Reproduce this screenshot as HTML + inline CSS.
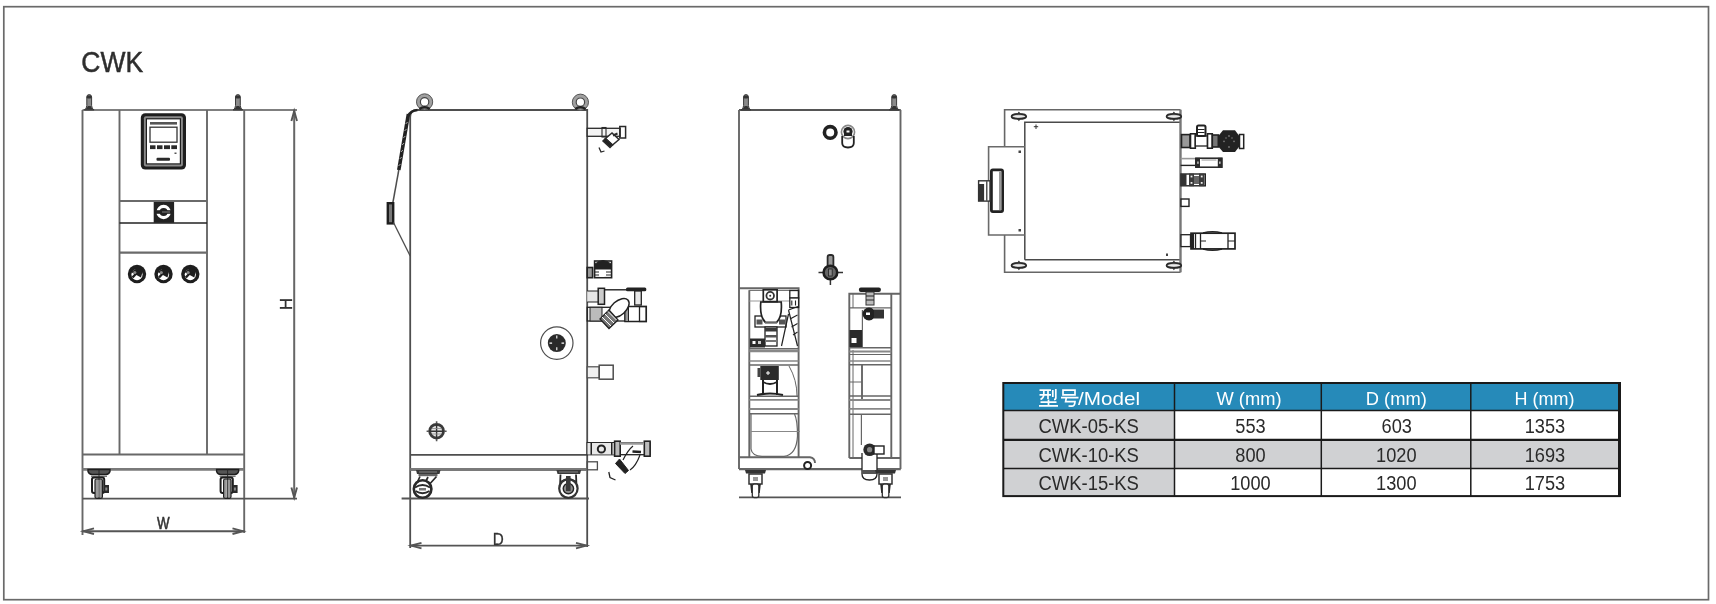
<!DOCTYPE html>
<html><head><meta charset="utf-8">
<style>
html,body{margin:0;padding:0;background:#fff;}
body{width:1716px;height:604px;overflow:hidden;position:relative;font-family:"Liberation Sans",sans-serif;}
svg{position:absolute;left:0;top:0;-webkit-font-smoothing:antialiased;will-change:transform;}
</style></head>
<body>
<svg width="1716" height="604" viewBox="0 0 1716 604" font-family="Liberation Sans, sans-serif">
<!-- page border -->
<rect x="3.8" y="6.7" width="1704.7" height="593" fill="none" stroke="#6a6a6a" stroke-width="1.7"/>
<text x="81.3" y="72" font-size="29" fill="#2e2e2e" stroke="#2e2e2e" stroke-width="0.5" textLength="61.8" lengthAdjust="spacingAndGlyphs">CWK</text>

<!-- ============ FRONT VIEW ============ -->
<g id="front" fill="none" stroke="#686868" stroke-width="1.9">
  <line x1="82.5" y1="110" x2="297" y2="110" stroke="#555" stroke-width="1.7"/>
  <line x1="82.5" y1="110" x2="82.5" y2="535"/>
  <line x1="244.2" y1="110" x2="244.2" y2="533"/>
  <line x1="119.5" y1="110" x2="119.5" y2="454.5"/>
  <line x1="207" y1="110" x2="207" y2="454.5"/>
  <line x1="82.5" y1="454.5" x2="244.2" y2="454.5"/>
  <line x1="82.5" y1="469.3" x2="244.2" y2="469.3" stroke="#7a7a7a" stroke-width="2.8"/>
  <line x1="82.5" y1="498.6" x2="297" y2="498.6" stroke="#555" stroke-width="1.9"/>
  <!-- H dim -->
  <line x1="294.2" y1="110" x2="294.2" y2="498.6" stroke="#666" stroke-width="2"/>
  <path d="M291.4 121 L294.2 111 L297 121 M291.4 487.5 L294.2 497.5 L297 487.5" stroke="#555" stroke-width="1.9"/>
  <!-- W dim -->
  <line x1="82.5" y1="531.2" x2="244.2" y2="531.2" stroke="#555" stroke-width="1.9"/>
  <path d="M94 528.4 L83.5 531.2 L94 534 M232.5 528.4 L243 531.2 L232.5 534" stroke="#555" stroke-width="1.9"/>
  <!-- panel lines -->
  <line x1="119.5" y1="201" x2="207" y2="201" stroke="#6a6a6a" stroke-width="2.2"/>
  <line x1="119.5" y1="223" x2="207" y2="223" stroke="#222" stroke-width="1.7"/>
  <line x1="119.5" y1="252.6" x2="207" y2="252.6" stroke="#6a6a6a" stroke-width="2.2"/>
</g>
<!-- bolts -->
<g id="bolt1">
  <path d="M84.3 110 Q86.8 108.5 86.8 105.5 L86.8 97 Q86.8 94.6 89.2 94.6 Q91.6 94.6 91.6 97 L91.6 105.5 Q91.6 108.5 94.1 110 Z" fill="#8a8a8a" stroke="#3a3a3a" stroke-width="1"/>
  <path d="M84.5 109.8 Q87.5 108 87.8 106 L90.6 106 Q91 108 94 109.8 Z" fill="#333"/>
  <rect x="86.6" y="95.5" width="5" height="3" rx="1.5" fill="#333"/>
</g>
<use href="#bolt1" transform="translate(148.7,0)"/>
<g fill="#333" font-size="15">
  <text x="157" y="529" font-size="16.5" stroke="#333" stroke-width="0.6" textLength="12.6" lengthAdjust="spacingAndGlyphs">W</text>
  <text transform="translate(292.4,310) rotate(-90)" font-size="16.5" stroke="#333" stroke-width="0.3" textLength="12" lengthAdjust="spacingAndGlyphs">H</text>
</g>
<!-- controller -->
<g>
  <rect x="140.8" y="113.2" width="45.2" height="56.3" rx="4.5" fill="#1e1e1e"/>
  <rect x="143.9" y="116.3" width="39" height="50.1" rx="2" fill="#8a8a8a"/>
  <rect x="145.8" y="118.2" width="35.2" height="46.3" fill="#1e1e1e"/>
  <rect x="147" y="119.4" width="32.8" height="43.9" fill="#fff"/>
  <rect x="150" y="122" width="27" height="2.6" fill="#555"/>
  <rect x="150" y="127.2" width="27" height="15" fill="#fff" stroke="#333" stroke-width="1.3"/>
  <rect x="150" y="145.3" width="5.5" height="3.8" fill="#2a2a2a"/>
  <rect x="157" y="145.3" width="5.5" height="3.8" fill="#2a2a2a"/>
  <rect x="164" y="145.3" width="6" height="3.8" fill="#2a2a2a"/>
  <rect x="171.3" y="145.3" width="5.7" height="3.8" fill="#2a2a2a"/>
  <rect x="174.5" y="152.5" width="2" height="1.5" fill="#555"/>
  <rect x="156.5" y="157.8" width="13.5" height="3" rx="1" fill="#2a2a2a"/>
</g>
<!-- switch -->
<g>
  <rect x="153.7" y="202" width="20.4" height="20.8" fill="#222"/>
  <circle cx="163.6" cy="212" r="7.2" fill="#fff"/>
  <circle cx="163.6" cy="212" r="4" fill="#222"/>
  <rect x="155" y="210.2" width="18" height="3.6" fill="#222"/>
  <rect x="162" y="211.3" width="8" height="1.4" fill="#666"/>
</g>
<!-- gauges -->
<g id="gauge1">
  <circle cx="137" cy="274" r="9.2" fill="#1e1e1e"/>
  <circle cx="137" cy="274.6" r="5.6" fill="#fff"/>
  <path d="M131 272 L138.5 267 L143 270 L141 277.5 Z" fill="#1e1e1e"/>
  <path d="M132.5 277.5 L140 269.5" stroke="#1e1e1e" stroke-width="2.4"/>
  <circle cx="134.8" cy="272.5" r="1.6" fill="#888"/>
</g>
<use href="#gauge1" transform="translate(26.5,0)"/>
<use href="#gauge1" transform="translate(53.3,0)"/>
<!-- front casters -->
<g id="fcaster" transform="translate(99,0)">
  <path d="M-11 469.5 L11 469.5 L11 471.5 Q10 474.3 7 474.5 L-7 474.5 Q-10 474.3 -11 471.5 Z" fill="#555" stroke="#1e1e1e" stroke-width="1.4"/>
  <path d="M-8 476.3 H8" stroke="#777" stroke-width="1.4"/>
  <rect x="-7" y="477.5" width="12.2" height="15.5" rx="2" fill="#fff" stroke="#1e1e1e" stroke-width="2"/>
  <rect x="-4" y="479" width="7.4" height="19.3" rx="1.5" fill="#9a9a9a" stroke="#222" stroke-width="1.2"/>
  <rect x="-0.8" y="480" width="1.3" height="17" fill="#eee"/>
  <path d="M0 469 V498.5" stroke="#222" stroke-width="0.9"/>
  <rect x="5" y="485" width="5" height="8" fill="#2a2a2a"/>
  <rect x="6.3" y="487.5" width="2" height="3" fill="#888"/>
</g>
<use href="#fcaster" transform="translate(128.6,0)"/>

<!-- ============ SIDE VIEW ============ -->
<g id="side" fill="none" stroke="#4e4e4e" stroke-width="1.8">
  <path d="M410.2 548 L410.2 117 Q410.2 110 417 110 L587.2 110 L587.2 547"/>
  <circle cx="424.6" cy="101.9" r="6.3" stroke="#a0a0a0" stroke-width="3.8"/>
  <circle cx="424.6" cy="101.9" r="8.1" stroke="#555" stroke-width="1"/>
  <circle cx="424.6" cy="101.9" r="4.2" stroke="#444" stroke-width="1.2"/>
  <circle cx="580.4" cy="102.2" r="6.3" stroke="#a0a0a0" stroke-width="3.8"/>
  <circle cx="580.4" cy="102.2" r="8.1" stroke="#555" stroke-width="1"/>
  <circle cx="580.4" cy="102.2" r="4.2" stroke="#444" stroke-width="1.2"/>
  <path d="M419.5 109 Q424.6 105.5 429.7 109" stroke="#222" stroke-width="2.6"/>
  <path d="M575.3 109 Q580.4 105.5 585.5 109" stroke="#222" stroke-width="2.6"/>
  <path d="M417.5 110 Q410.5 110.5 408.2 116" stroke="#222" stroke-width="2.4"/>
  <path d="M408.4 114 L398.8 170" stroke="#222" stroke-width="3.6"/>
  <path d="M407.6 122 L405.6 124 M406.5 129 L404.5 131 M405.3 136 L403.3 138 M404.1 143 L402.1 145 M402.9 150 L400.9 152 M401.7 157 L399.7 159 M400.5 164 L398.5 166" stroke="#bbb" stroke-width="0.9"/>
  <path d="M398.8 170 L392.9 202.5" stroke-width="1.5"/>
  <rect x="387.8" y="203.2" width="5.4" height="20.2" stroke="#1e1e1e" stroke-width="2.4" fill="#777"/>
  <path d="M393.5 222.5 L410.2 256" stroke-width="1.3"/>
  <line x1="410.2" y1="454.8" x2="587.2" y2="454.8"/>
  <line x1="410.2" y1="469.5" x2="587.2" y2="469.5" stroke="#7a7a7a" stroke-width="2.8"/>
  <line x1="401.6" y1="498.5" x2="589" y2="498.5" stroke="#555" stroke-width="1.9"/>
  <line x1="410.2" y1="545.6" x2="587.2" y2="545.6" stroke="#555" stroke-width="1.9"/>
  <path d="M421.5 542.8 L411 545.6 L421.5 548.4 M576 542.8 L586.5 545.6 L576 548.4" stroke="#555" stroke-width="1.9"/>
  <circle cx="556.8" cy="343.1" r="16.2" stroke-width="1.2"/>
  <!-- valve circle lower-left -->
  <circle cx="436.6" cy="431.2" r="6.9" stroke="#3a3a3a" stroke-width="2.8" fill="#e4e4e4"/>
  <path d="M429 431.2 L444.2 431.2 M436.6 423.5 L436.6 439" stroke="#333" stroke-width="1.4"/>
  <path d="M432 428.5 H441.5 M432 434 H441.5" stroke="#888" stroke-width="0.8"/>
  <path d="M426.6 431.2 H429 M444.2 431.2 H446.6 M436.6 421.2 V423.5 M436.6 439 V441.2" stroke="#555" stroke-width="1.6"/>
  <!-- small pipe mid -->
  <rect x="587.2" y="366.8" width="12" height="11" stroke-width="1.2" fill="#f0f0f0"/>
  <rect x="599.2" y="365.2" width="14" height="14" stroke-width="1.5"/>
  <!-- small tab bottom -->
  <rect x="587.2" y="461.8" width="10.2" height="8" stroke-width="1.3"/>
</g>
<circle cx="556.8" cy="343.1" r="9" fill="#2a2a2a"/>
<g stroke="#fff" stroke-width="1.1"><path d="M556.8 335.5 v3 M556.8 347.2 v3 M549.5 343.1 h2.6 M561.5 343.1 h2.6"/></g>
<text x="492.8" y="544.5" font-size="16.5" fill="#333" stroke="#333" stroke-width="0.3" textLength="11" lengthAdjust="spacingAndGlyphs">D</text>
<!-- side casters -->
<g>
  <path d="M416 470 L440.5 470 L439.5 474 L417 474 Z" fill="#3a3a3a"/>
  <path d="M419 472 H437" stroke="#999" stroke-width="0.8"/>
  <rect x="418.5" y="474" width="19" height="2.2" fill="#666"/>
  <path d="M420 476.5 L415.5 486 M436.5 476.5 L427 487 M428 477 L423 487" fill="none" stroke="#2a2a2a" stroke-width="1.7"/>
  <circle cx="422.6" cy="489" r="8.8" fill="#fff" stroke="#2a2a2a" stroke-width="2.6"/>
  <path d="M415 487.5 Q422.6 482.5 430 487.5 M415.5 491 Q422.6 495.5 429.5 491" fill="none" stroke="#2a2a2a" stroke-width="2"/>
  <rect x="419" y="488" width="7" height="2.5" fill="#777"/>
</g>
<g>
  <path d="M556.4 470 L581.2 470 L580 474 L557.5 474 Z" fill="#3a3a3a"/>
  <path d="M559 472 H578" stroke="#999" stroke-width="0.8"/>
  <path d="M560.5 474.5 L560 486 Q560 480 568.4 479 Q577 480 576.5 486 L576 474.5" fill="none" stroke="#2a2a2a" stroke-width="1.8"/>
  <circle cx="568.4" cy="488.6" r="9.2" fill="#fff" stroke="#333" stroke-width="2.2"/>
  <circle cx="568.4" cy="488.6" r="5.2" fill="#8a8a8a" stroke="#222" stroke-width="1.4"/>
  <rect x="566" y="476" width="4.6" height="15" fill="#3a3a3a"/>
</g>
<!-- side fittings: top -->
<g stroke="#2a2a2a" fill="none">
  <rect x="587.2" y="128.3" width="33" height="8" stroke-width="1.3" fill="#f4f4f4"/>
  <rect x="602" y="127.5" width="4" height="9.5" stroke-width="1.1"/>
  <rect x="619.8" y="126.5" width="5.8" height="11.5" stroke-width="1.5"/>
  <path d="M605.5 138.5 L612 133 L619 139.5 L612.5 145 Z" fill="#fff" stroke-width="1.5"/>
  <path d="M605.5 138.5 L612.5 145 L610 147.5 L603 141 Z" fill="#222" stroke-width="1.5"/>
  <path d="M613 135.5 L617.5 133.5" stroke-width="2"/>
  <path d="M599 147.5 L601 152 L604.5 151" stroke-width="1.3"/>
</g>
<!-- small valve -->
<g stroke="#222" fill="none">
  <rect x="587.2" y="267.5" width="5.4" height="10.2" stroke-width="1.6" fill="#999"/>
  <rect x="594.6" y="261" width="17" height="16.7" stroke-width="1.6"/>
  <path d="M595 264 Q603 257 611 264 L611 269 L595 269 Z" fill="#222"/>
  <rect x="599.5" y="270" width="5" height="7" fill="#fff" stroke="none"/>
  <path d="M595 272 h4 M606 272 h5 M595 275 h4 M606 275 h5" stroke-width="1"/>
</g>
<!-- big assembly -->
<g stroke="#222" fill="none">
  <rect x="587.2" y="291" width="11" height="11" stroke="none" fill="#e6e6e6"/>
  <path d="M587.2 291 h11 M587.2 302 h11" stroke-width="1.2"/>
  <rect x="598.2" y="288.3" width="6.3" height="16" stroke-width="1.5" fill="#ccc"/>
  <line x1="604.5" y1="289.8" x2="630" y2="289.8" stroke-width="1.4"/>
  <rect x="626" y="287.6" width="20.3" height="3.6" rx="1.5" fill="#222" stroke="none"/>
  <rect x="634.7" y="291" width="6.6" height="14" stroke-width="1.3" fill="#e8e8e8"/>
  <rect x="587.2" y="307.3" width="59" height="13.7" stroke-width="1.3"/>
  <rect x="590" y="307.3" width="12" height="13.7" stroke-width="1" fill="#bbb"/>
  <rect x="625" y="306.5" width="21.3" height="15" stroke-width="1.5" fill="#fff"/>
  <rect x="639.5" y="306.5" width="6.8" height="15" stroke-width="1.3"/>
  <rect x="625" y="306.5" width="3.5" height="15" fill="#999" stroke-width="1"/>
  <ellipse cx="619" cy="308" rx="12" ry="7" transform="rotate(-42 619 308)" fill="#fff" stroke-width="1.5"/>
  <path d="M600 319 L609 310 L618 320 L609 328.5 Z" fill="#777" stroke-width="1.3"/>
  <path d="M602 317 L611 326 M605 314 L614 323 M608 311.5 L616.5 320" stroke="#fff" stroke-width="1"/>
</g>
<!-- bottom fitting -->
<g stroke="#222" fill="none">
  <rect x="587.2" y="442.7" width="62.8" height="12" stroke-width="1.3" fill="#fff"/>
  <rect x="587.5" y="443" width="27" height="11.5" fill="#e8e8e8" stroke="none"/>
  <rect x="590.5" y="442.7" width="1.5" height="12" fill="#222" stroke="none"/>
  <rect x="611" y="442.7" width="1.5" height="12" fill="#222" stroke="none"/>
  <circle cx="601.4" cy="449" r="3.6" stroke-width="2"/>
  <rect x="614.6" y="441.2" width="5.6" height="15" stroke-width="1.6" fill="#bbb"/>
  <rect x="644.3" y="441.2" width="5.8" height="15" stroke-width="1.6" fill="#bbb"/>
  <path d="M620 443.5 h24" stroke="#999" stroke-width="2.5"/>
  <path d="M623 460 Q628 450 633 446" stroke-width="1.2"/>
  <path d="M640 455 Q636 466 630 470" stroke-width="1.2"/>
  <path d="M619.5 459 L628.5 470.5 L625 473.5 L615.5 463.5 Z" fill="#222" stroke-width="1"/>
  <path d="M632.5 451.5 L641 452" stroke-width="2.4"/>
  <path d="M608.8 472 L610 477.5 L615.5 480" stroke-width="1.3"/>
</g>

<!-- ============ BACK VIEW ============ -->
<g id="back" fill="none" stroke="#666" stroke-width="1.9">
  <line x1="739" y1="110" x2="900.8" y2="110" stroke="#555" stroke-width="1.8"/>
  <line x1="739" y1="110" x2="739" y2="469"/>
  <line x1="900.5" y1="110" x2="900.5" y2="469"/>
  <line x1="739" y1="469.2" x2="900.8" y2="469.2" stroke="#666" stroke-width="2.2"/>
  <line x1="739" y1="497.4" x2="901" y2="497.4" stroke="#555" stroke-width="1.9"/>
  <!-- left panel -->
  <path d="M739 288.2 L798.6 288.2 L798.6 457.2"/>
  <line x1="749.3" y1="290.2" x2="749.3" y2="457.2"/>
  <line x1="749.3" y1="290.4" x2="798.6" y2="290.4" stroke-width="1"/>
  <line x1="749.3" y1="350.8" x2="798.6" y2="350.8" stroke="#888" stroke-width="3"/>
  <line x1="749.3" y1="348.5" x2="798.6" y2="348.5" stroke-width="1"/>
  <line x1="749.3" y1="361" x2="798.6" y2="361" stroke="#888" stroke-width="1.5"/>
  <line x1="749.3" y1="365" x2="798.6" y2="365" stroke-width="1.4"/>
  <line x1="749.3" y1="396.3" x2="798.6" y2="396.3" stroke-width="1.4"/>
  <line x1="749.3" y1="399.8" x2="798.6" y2="399.8" stroke="#888" stroke-width="1.8"/>
  <line x1="749.3" y1="409" x2="798.6" y2="409" stroke="#888" stroke-width="1.8"/>
  <line x1="749.3" y1="413.7" x2="798.6" y2="413.7" stroke-width="1.4"/>
  <path d="M751 414 L751 449 Q752 456 762 456.3 L784 456.3 Q796.5 455 797.5 436 Q797.5 420 794.5 414" stroke-width="1.2"/>
  <line x1="751" y1="431.5" x2="800" y2="431.5" stroke="#888" stroke-width="1.2"/>
  <path d="M789 366 Q797 380 797 396" stroke-width="1"/>
  <path d="M739 457.2 L810 457.2 Q815 458 815 463" />
  <!-- right panel -->
  <path d="M849.3 458 L849.3 293.7 L900.8 293.7"/>
  <line x1="891.3" y1="293.7" x2="891.3" y2="458"/>
  <line x1="853" y1="350" x2="853" y2="458" stroke-width="1"/>
  <line x1="849.3" y1="307.9" x2="891.3" y2="307.9" stroke-width="1.2"/>
  <line x1="862.4" y1="310" x2="862.4" y2="347" stroke-width="1.2"/>
  <line x1="849.3" y1="347.8" x2="891.3" y2="347.8" stroke-width="1.4"/>
  <line x1="849.3" y1="351.5" x2="891.3" y2="351.5" stroke="#888" stroke-width="2.2"/>
  <line x1="849.3" y1="354.5" x2="891.3" y2="354.5" stroke-width="1"/>
  <line x1="849.3" y1="361" x2="891.3" y2="361" stroke="#888" stroke-width="1.5"/>
  <line x1="849.3" y1="364.7" x2="891.3" y2="364.7" stroke-width="1.4"/>
  <line x1="862" y1="365" x2="862" y2="400"/>
  <line x1="849.3" y1="382" x2="862" y2="382" stroke-width="1"/>
  <line x1="849.3" y1="396" x2="891.3" y2="396" stroke-width="1.4"/>
  <line x1="849.3" y1="400" x2="891.3" y2="400" stroke="#888" stroke-width="1.8"/>
  <line x1="849.3" y1="408.8" x2="891.3" y2="408.8" stroke="#888" stroke-width="1.8"/>
  <line x1="849.3" y1="414.2" x2="891.3" y2="414.2" stroke-width="1.4"/>
  <line x1="861.4" y1="414" x2="861.4" y2="445" stroke-width="1.2"/>
  <line x1="849.3" y1="458" x2="900.8" y2="458"/>
  <line x1="853" y1="293.7" x2="853" y2="308" stroke-width="1"/>
</g>
<!-- back bolts -->
<use href="#bolt1" transform="translate(656.8,0)"/>
<use href="#bolt1" transform="translate(805,0)"/>
<!-- rings -->
<circle cx="830.2" cy="132.4" r="5.8" fill="none" stroke="#222" stroke-width="3.6"/>
<circle cx="848" cy="132" r="6.6" fill="none" stroke="#888" stroke-width="1.6"/>
<path d="M842.2 136 L842.2 143 Q842.2 147.5 848 147.5 Q853.8 147.5 853.8 143 L853.8 136" fill="none" stroke="#222" stroke-width="1.8"/>
<circle cx="848" cy="131.5" r="4.6" fill="#222"/>
<rect x="844" y="131" width="8" height="5" fill="#222"/>
<rect x="846.5" y="130.5" width="3" height="2" fill="#fff"/>
<!-- cross valve -->
<g>
  <path d="M818.5 272.5 H843 M830.4 280 V285" stroke="#333" stroke-width="1.5"/>
  <rect x="827.6" y="255" width="5.8" height="12" rx="2" fill="#999" stroke="#2a2a2a" stroke-width="1.8"/>
  <circle cx="830.4" cy="272.5" r="6.8" fill="#666" stroke="#1e1e1e" stroke-width="2.6"/>
  <rect x="828.6" y="269" width="3.6" height="7" fill="#888" stroke="#222" stroke-width="0.8"/>
</g>
<!-- left pump 1 -->
<g stroke="#222" fill="none">
  <path d="M749.3 301 H798.6" stroke="#999" stroke-width="1"/>
  <rect x="755" y="316" width="31" height="11" stroke-width="1.3" fill="#fff"/>
  <rect x="756.5" y="319.5" width="6" height="5" fill="#555" stroke="none"/>
  <rect x="779" y="319.5" width="6" height="5" fill="#555" stroke="none"/>
  <path d="M760.8 302 Q759.5 317 765.5 322.5 L776.5 322.5 Q782.5 317 781.2 302 Z" fill="#fff" stroke-width="1.7"/>
  <rect x="763.3" y="289.8" width="13.8" height="11.8" fill="#fff" stroke-width="1.7"/>
  <circle cx="770.2" cy="295.7" r="3.8" fill="#fff" stroke="#333" stroke-width="1.8"/>
  <circle cx="770.2" cy="295.7" r="1" fill="#333" stroke="none"/>
  <path d="M765 322.5 H777" stroke="#666" stroke-width="2"/>
  <rect x="765" y="327" width="12" height="19" stroke-width="1.3" fill="#fff"/>
  <rect x="765" y="328" width="12" height="3.5" fill="#3a3a3a" stroke="none"/>
  <rect x="765" y="335" width="12" height="2.5" fill="#555" stroke="none"/>
  <rect x="765" y="340" width="12" height="2" fill="#777" stroke="none"/>
  <rect x="750" y="338.5" width="15" height="9" fill="#2a2a2a" stroke="none"/>
  <rect x="752.5" y="341" width="3" height="3" fill="#fff" stroke="none"/>
  <rect x="758" y="341" width="3" height="3" fill="#ccc" stroke="none"/>
  <rect x="789.8" y="290.5" width="8.8" height="7.5" stroke-width="1.3"/>
  <rect x="789.8" y="298" width="8.8" height="9.5" stroke-width="1.3" fill="#fff"/>
  <path d="M791.8 300.5 v5 M795.5 300.5 v5" stroke-width="1.1"/>
  <path d="M788.5 310 L798 306.5 M788.5 310 L797.5 346 M781.5 346 L788.5 314" stroke-width="1.2"/>
  <path d="M790 319 L797.5 315 M791.5 327 L797.5 323.5 M793 335 L797.5 332" stroke-width="1.1"/>
</g>
<!-- left motor 2 -->
<g stroke="#222" fill="none">
  <rect x="760.3" y="366" width="18.5" height="14" fill="#2a2a2a" stroke="none"/>
  <rect x="757.5" y="368" width="3" height="9" fill="#444" stroke="none"/>
  <path d="M768 371 v4 M766 373 h4" stroke="#fff" stroke-width="1"/>
  <path d="M763 382 Q770 386 777 382" stroke-width="1.8"/>
  <path d="M763 380 L763 395 M777 380 L777 395" stroke-width="2"/>
  <path d="M757 395 Q770 392 783 395" stroke-width="2.2"/>
</g>
<!-- right panel valve -->
<g stroke="#222" fill="none">
  <rect x="858.9" y="287.6" width="22" height="4.3" rx="2" fill="#222" stroke="none"/>
  <rect x="866" y="292" width="8" height="13" fill="#bbb" stroke="#333" stroke-width="1"/>
  <path d="M866 296 h8 M866 300 h8" stroke-width="1"/>
  <circle cx="869" cy="314" r="6.5" fill="#222" stroke="none"/>
  <rect x="874" y="309.5" width="10" height="9" fill="#333" stroke="none"/>
  <rect x="866" y="312.5" width="4" height="2.5" fill="#fff" stroke="none"/>
  <rect x="849.5" y="330" width="12.5" height="17" fill="#2a2a2a" stroke="none"/>
  <rect x="851.5" y="338" width="5" height="5" fill="#fff" stroke="none"/>
</g>
<!-- right drain valve -->
<g stroke="#222" fill="none">
  <path d="M862 453 L862 474 Q862 480 869.5 480 Q877 480 877 474 L877 453" stroke-width="1.3" fill="#fff"/>
  <circle cx="869.6" cy="449.7" r="6.3" fill="#2a2a2a" stroke="none"/>
  <circle cx="869.6" cy="449.7" r="2.6" fill="#888" stroke="none"/>
  <rect x="874" y="446" width="10" height="8" fill="#fff" stroke-width="1.4"/>
  <rect x="862" y="470" width="15" height="4" fill="#555" stroke="none"/>
</g>
<!-- small wheel left -->
<circle cx="807.6" cy="465.5" r="3.5" fill="#fff" stroke="#222" stroke-width="2"/>
<!-- back casters -->
<g id="bcaster">
  <path d="M745 470 L766 470 L765 473.5 L746 473.5 Z" fill="#333"/>
  <rect x="749" y="474" width="13" height="10" fill="#fff" stroke="#333" stroke-width="1.5"/>
  <rect x="753" y="477" width="5" height="4" fill="#999"/>
  <path d="M751 484 L752 493 M760 484 L759 493" stroke="#222" stroke-width="1.6"/>
  <rect x="752.3" y="484" width="6.5" height="13.5" rx="2" fill="#fff" stroke="#333" stroke-width="1.3"/>
</g>
<use href="#bcaster" transform="translate(130,0)"/>

<!-- ============ TOP VIEW ============ -->
<g id="top" fill="none" stroke="#6a6a6a" stroke-width="1.6">
  <path d="M1004.6 146.8 L1004.6 109.7 L1180.5 109.7 M1004.6 235 L1004.6 272.3 L1180.5 272.3" stroke="#666" stroke-width="1.6"/>
  <path d="M1024.8 259.7 L1024.8 122.2 L1180.5 122.2 M1024.8 259.7 L1180.5 259.7" stroke="#4a4a4a" stroke-width="1.5"/>
  <line x1="1180.5" y1="109.7" x2="1180.5" y2="272.3" stroke="#777" stroke-width="2.4"/>
  <path d="M1024.8 146.8 L988.6 146.8 L988.6 235 L1024.8 235" stroke-width="1.6"/>
  <rect x="991.4" y="169.8" width="11.2" height="41.8" rx="1.5" stroke="#222" stroke-width="2.8"/>
  <rect x="999" y="171.5" width="2.5" height="38.5" fill="#999" stroke="none"/>
  <rect x="978.6" y="180.8" width="11.4" height="20.3" fill="#fff" stroke="#333" stroke-width="1.4"/>
  <rect x="978.6" y="184" width="5.5" height="17" fill="#333" stroke="none"/>
  <rect x="986" y="181" width="1.5" height="20" fill="#555" stroke="none"/>
</g>
<!-- feet -->
<g id="tfoot">
  <ellipse cx="1018.9" cy="116.4" rx="7.3" ry="2.5" fill="#ccc" stroke="#2a2a2a" stroke-width="1.8"/>
  <path d="M1013.5 116.4 H1024.3" stroke="#f4f4f4" stroke-width="0.9"/>
  <path d="M1017.2 113.8 L1018.9 111.6 L1020.6 113.8 Z M1017.2 119 L1018.9 121.2 L1020.6 119 Z" fill="#333"/>
</g>
<use href="#tfoot" transform="translate(155,0)"/>
<use href="#tfoot" transform="translate(0,149)"/>
<use href="#tfoot" transform="translate(155,149)"/>
<g stroke="#333" stroke-width="1" fill="none">
  <path d="M1036 124.5 v4.5 M1033.8 126.7 h4.4"/>
</g>
<g fill="#444">
  <rect x="1018.5" y="150.5" width="2.5" height="2.5"/>
  <rect x="1018.5" y="229" width="2.5" height="2.5"/>
  <rect x="1166" y="253.5" width="2" height="2.5"/>
</g>
<!-- top view fittings -->
<g stroke="#222" fill="none">
  <!-- fitting 1 -->
  <rect x="1181.5" y="134.6" width="8.5" height="12.9" fill="#999" stroke-width="1.6"/>
  <rect x="1190.5" y="133.8" width="4.8" height="14.4" fill="#fff" stroke-width="1.6"/>
  <rect x="1195.3" y="136" width="12.2" height="10" fill="#fff" stroke-width="1.3"/>
  <rect x="1197" y="125.5" width="8.5" height="10.5" rx="1.5" fill="#fff" stroke-width="2"/>
  <path d="M1198 129.5 h6.5 M1198 132.5 h6.5" stroke-width="1.2"/>
  <rect x="1207.5" y="133.8" width="4.8" height="14.4" fill="#fff" stroke-width="1.6"/>
  <rect x="1212.3" y="135" width="6" height="12" fill="#777" stroke-width="1.6"/>
  <path d="M1223 130.3 L1235 130.3 L1239.3 136 L1239.3 146.5 L1235 152.1 L1223 152.1 L1218.3 146.5 L1218.3 136 Z" fill="#222" stroke="none"/>
  <g fill="#777" stroke="none">
    <circle cx="1229" cy="136" r="0.9"/><circle cx="1229" cy="147" r="0.9"/>
    <circle cx="1224" cy="141.3" r="0.9"/><circle cx="1234" cy="141.3" r="0.9"/>
    <circle cx="1226" cy="138" r="0.8"/><circle cx="1232" cy="138" r="0.8"/>
  </g>
  <rect x="1239.5" y="134.5" width="4.2" height="14" fill="#fff" stroke-width="1.5"/>
  <!-- fitting 2 -->
  <path d="M1180.6 158.6 H1195.5" stroke="#999" stroke-width="1.6"/>
  <path d="M1180.6 165.4 H1195.5" stroke="#222" stroke-width="1.4"/>
  <rect x="1195.8" y="158.2" width="26.2" height="9" fill="#fff" stroke-width="1.5"/>
  <rect x="1195.8" y="157.8" width="4.2" height="9.8" fill="#2a2a2a" stroke="none"/>
  <rect x="1217.8" y="157.8" width="4.2" height="9.8" fill="#2a2a2a" stroke="none"/>
  <path d="M1201.5 160 H1216.5" stroke="#777" stroke-width="0.8"/>
  <rect x="1197.3" y="161.5" width="1.3" height="2.3" fill="#ddd" stroke="none"/>
  <rect x="1219.2" y="161.5" width="1.3" height="2.3" fill="#ddd" stroke="none"/>
  <!-- fitting 3 -->
  <rect x="1181" y="174" width="24.3" height="11.8" fill="#fff" stroke-width="1.4"/>
  <rect x="1181" y="174" width="5.5" height="11.8" fill="#333" stroke="none"/>
  <rect x="1189" y="173.6" width="5" height="12.6" fill="#3a3a3a" stroke="none"/>
  <rect x="1199" y="173.6" width="5.5" height="12.6" fill="#3a3a3a" stroke="none"/>
  <rect x="1194" y="176" width="5" height="8" fill="#666" stroke="none"/>
  <g fill="#eee" stroke="none">
    <rect x="1190.6" y="175.6" width="1.8" height="1.8"/><rect x="1190.6" y="182" width="1.8" height="1.8"/>
    <rect x="1200.8" y="175.6" width="1.8" height="1.8"/><rect x="1200.8" y="182" width="1.8" height="1.8"/>
  </g>
  <!-- small rect -->
  <rect x="1181" y="199" width="8" height="7.4" fill="#fff" stroke-width="1.4"/>
  <!-- fitting 4 -->
  <rect x="1181" y="234.7" width="9.5" height="11.9" fill="#fff" stroke-width="1.3"/>
  <rect x="1191" y="233.2" width="44" height="15.7" fill="#fff" stroke-width="1.7"/>
  <rect x="1191" y="233.2" width="3" height="15.7" fill="#222" stroke="none"/>
  <path d="M1195.5 233.2 V248.9 M1200.5 233.2 V248.9 M1228 233.2 V248.9" stroke-width="1.3"/>
  <path d="M1200.5 241 H1206 M1228 241 H1235" stroke-width="1"/>
  <path d="M1203 233 Q1212.5 230.5 1222 233 M1203 249 Q1212.5 251.5 1222 249" stroke-width="1.3"/>
</g>

<!-- ============ TABLE ============ -->
<g id="table">
  <rect x="1003.3" y="383" width="616.2" height="27.6" fill="#268ab9"/>
  <rect x="1003.3" y="410.6" width="171.2" height="85.5" fill="#d0d1d3"/>
  <rect x="1174.5" y="439.8" width="445" height="28.8" fill="#d0d1d3"/>
  <g stroke="#1a1a1a" stroke-width="1.5" fill="none">
    <rect x="1003.3" y="383" width="616.2" height="113.1" stroke-width="2"/>
    <line x1="1619.5" y1="382" x2="1619.5" y2="497" stroke-width="3"/>
    <line x1="1003.3" y1="410.6" x2="1619.5" y2="410.6"/>
    <line x1="1003.3" y1="439.8" x2="1619.5" y2="439.8" stroke-width="2.2"/>
    <line x1="1003.3" y1="468.6" x2="1619.5" y2="468.6"/>
    <line x1="1174.5" y1="383" x2="1174.5" y2="496"/>
    <line x1="1321.3" y1="383" x2="1321.3" y2="496"/>
    <line x1="1470.8" y1="383" x2="1470.8" y2="496"/>
  </g>
  <g font-size="19" fill="#fff" text-anchor="middle">
    <text x="1078" y="405" text-anchor="start" textLength="62" lengthAdjust="spacingAndGlyphs">/Model</text>
    <text x="1249" y="405" textLength="65" lengthAdjust="spacingAndGlyphs">W (mm)</text>
    <text x="1396.3" y="405" textLength="61" lengthAdjust="spacingAndGlyphs">D (mm)</text>
    <text x="1544.5" y="405" textLength="60" lengthAdjust="spacingAndGlyphs">H (mm)</text>
  </g>
  <g fill="none" stroke="#fff" stroke-width="1.7" stroke-linecap="butt">
    <path d="M1039.5 390.2 H1051 M1039.5 394.8 H1051 M1043.8 390 V395 Q1043.5 398 1040.5 399.5 M1048 390 V399"/>
    <path d="M1052.8 390 V397 M1055.8 389 V398 Q1055.8 399.5 1054 399.5"/>
    <path d="M1040.5 402.2 H1056.5 M1048.5 399.5 V406 M1039 405.8 H1058"/>
    <path d="M1063 390.2 H1075 V394.8 H1063 Z"/>
    <path d="M1061 397.6 H1078.5 M1066.3 397.8 L1065.6 401.6 H1075 Q1075 406.5 1071 406.2 L1068.5 406"/>
  </g>
  <g font-size="19.5" fill="#2a2a2a" text-anchor="middle">
    <text x="1088.7" y="433" textLength="100.5" lengthAdjust="spacingAndGlyphs">CWK-05-KS</text>
    <text x="1088.7" y="461.7" textLength="100.5" lengthAdjust="spacingAndGlyphs">CWK-10-KS</text>
    <text x="1088.7" y="490.2" textLength="100.5" lengthAdjust="spacingAndGlyphs">CWK-15-KS</text>
    <text x="1250.5" y="433" textLength="30.4" lengthAdjust="spacingAndGlyphs">553</text>
    <text x="1250.5" y="461.7" textLength="30.4" lengthAdjust="spacingAndGlyphs">800</text>
    <text x="1250.5" y="490.2" textLength="40.5" lengthAdjust="spacingAndGlyphs">1000</text>
    <text x="1396.8" y="433" textLength="30.4" lengthAdjust="spacingAndGlyphs">603</text>
    <text x="1396.3" y="461.7" textLength="40.5" lengthAdjust="spacingAndGlyphs">1020</text>
    <text x="1396.3" y="490.2" textLength="40.5" lengthAdjust="spacingAndGlyphs">1300</text>
    <text x="1545" y="433" textLength="40.5" lengthAdjust="spacingAndGlyphs">1353</text>
    <text x="1545" y="461.7" textLength="40.5" lengthAdjust="spacingAndGlyphs">1693</text>
    <text x="1545" y="490.2" textLength="40.5" lengthAdjust="spacingAndGlyphs">1753</text>
  </g>
</g>
</svg>
</body></html>
